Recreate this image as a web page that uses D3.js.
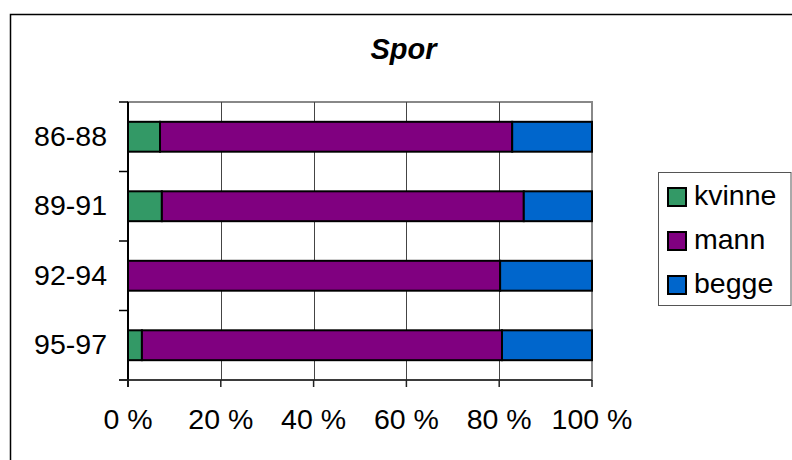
<!DOCTYPE html>
<html>
<head>
<meta charset="utf-8">
<style>
  body { margin: 0; background: #fff; }
  svg { display: block; font-family: "Liberation Sans", Arial, sans-serif; }
</style>
</head>
<body>
<svg width="792" height="460"></svg>
<script src="https://d3js.org/d3.v7.min.js"></script>
<script>
// data (shares in %)
const periods = ["86-88", "89-91", "92-94", "95-97"];
const seriesNames = ["kvinne", "mann", "begge"];
const kvinne = [6.9, 7.3, 0, 3.0];
const mann = [75.9, 78.0, 80.2, 77.6];
const begge = [17.2, 14.7, 19.8, 19.4];
const colors = ["#339966", "#800080", "#0066CC"];
const xTicks = [0, 20, 40, 60, 80, 100];

const rows = periods.map((p, i) => ({ period: p, kvinne: kvinne[i], mann: mann[i], begge: begge[i] }));

const svg = d3.select("svg");
const plotL = 128, plotR = 592, plotT = 102, plotB = 380;
const fs = 28.5;

// outer chart frame (runs off the page on right/bottom)
svg.append("rect")
  .attr("x", 10.5).attr("y", 14.5).attr("width", 820).attr("height", 500)
  .attr("fill", "none").attr("stroke", "#000").attr("stroke-width", 1.5);

svg.append("text")
  .attr("x", 403.5).attr("y", 59).attr("text-anchor", "middle")
  .attr("font-size", 29).attr("font-weight", "bold").attr("font-style", "italic")
  .text("Spor");

const x = d3.scaleLinear().domain([0, 100]).range([plotL, plotR]);
const y = d3.scaleBand().domain(periods).range([plotT, plotB]).paddingInner(0.57).paddingOuter(0.285);
const color = d3.scaleOrdinal().domain(seriesNames).range(colors);

// plot area border (gray)
svg.append("rect")
  .attr("x", plotL).attr("y", plotT).attr("width", plotR - plotL).attr("height", plotB - plotT)
  .attr("fill", "#fff").attr("stroke", "#888").attr("stroke-width", 2);

// gridlines
svg.append("g").selectAll("line").data(xTicks.slice(1, -1)).join("line")
  .attr("x1", d => Math.round(x(d)) + 0.5).attr("x2", d => Math.round(x(d)) + 0.5)
  .attr("y1", plotT).attr("y2", plotB)
  .attr("stroke", "#444").attr("stroke-width", 1);

// stacked bars
const stack = d3.stack().keys(seriesNames).offset(d3.stackOffsetExpand)(rows);
svg.append("g").selectAll("g").data(stack).join("g")
  .attr("fill", d => color(d.key))
  .selectAll("rect").data(d => d.filter(s => s[1] - s[0] > 0)).join("rect")
  .attr("x", d => x(d[0] * 100))
  .attr("width", d => x(d[1] * 100) - x(d[0] * 100))
  .attr("y", d => y(d.data.period))
  .attr("height", y.bandwidth())
  .attr("stroke", "#000").attr("stroke-width", 2);

// y axis
const yTickPos = d3.range(periods.length + 1).map(i => plotT + i * y.step());
svg.append("line").attr("x1", plotL).attr("x2", plotL).attr("y1", plotT).attr("y2", plotB + 7)
  .attr("stroke", "#000").attr("stroke-width", 2);
svg.append("g").selectAll("line").data(yTickPos).join("line")
  .attr("x1", plotL - 9).attr("x2", plotL).attr("y1", d => d).attr("y2", d => d)
  .attr("stroke", "#000").attr("stroke-width", 1.5);
svg.append("g").selectAll("text").data(periods).join("text")
  .attr("x", 107).attr("y", d => y(d) + y.bandwidth() / 2 + 9)
  .attr("text-anchor", "end").attr("font-size", fs)
  .text(d => d);

// x axis
svg.append("line").attr("x1", plotL - 9).attr("x2", plotR).attr("y1", plotB).attr("y2", plotB)
  .attr("stroke", "#222").attr("stroke-width", 1.5);
svg.append("g").selectAll("line").data(xTicks).join("line")
  .attr("x1", d => x(d)).attr("x2", d => x(d)).attr("y1", plotB).attr("y2", plotB + 7)
  .attr("stroke", "#222").attr("stroke-width", 1.5);
svg.append("g").selectAll("text").data(xTicks).join("text")
  .attr("x", d => x(d)).attr("y", 429)
  .attr("text-anchor", "middle").attr("font-size", fs)
  .text(d => d + " %");

// legend
const lg = svg.append("g");
lg.append("rect").attr("x", 658.5).attr("y", 172.5).attr("width", 132.5).attr("height", 133)
  .attr("fill", "#fff").attr("stroke", "#555").attr("stroke-width", 1);
const item = lg.selectAll("g").data(seriesNames).join("g")
  .attr("transform", (d, i) => `translate(668,${188 + i * 44})`);
item.append("rect").attr("width", 18).attr("height", 18)
  .attr("fill", d => color(d)).attr("stroke", "#000").attr("stroke-width", 2);
item.append("text").attr("x", 26).attr("y", 17).attr("font-size", fs).text(d => d);
</script>
</body>
</html>
